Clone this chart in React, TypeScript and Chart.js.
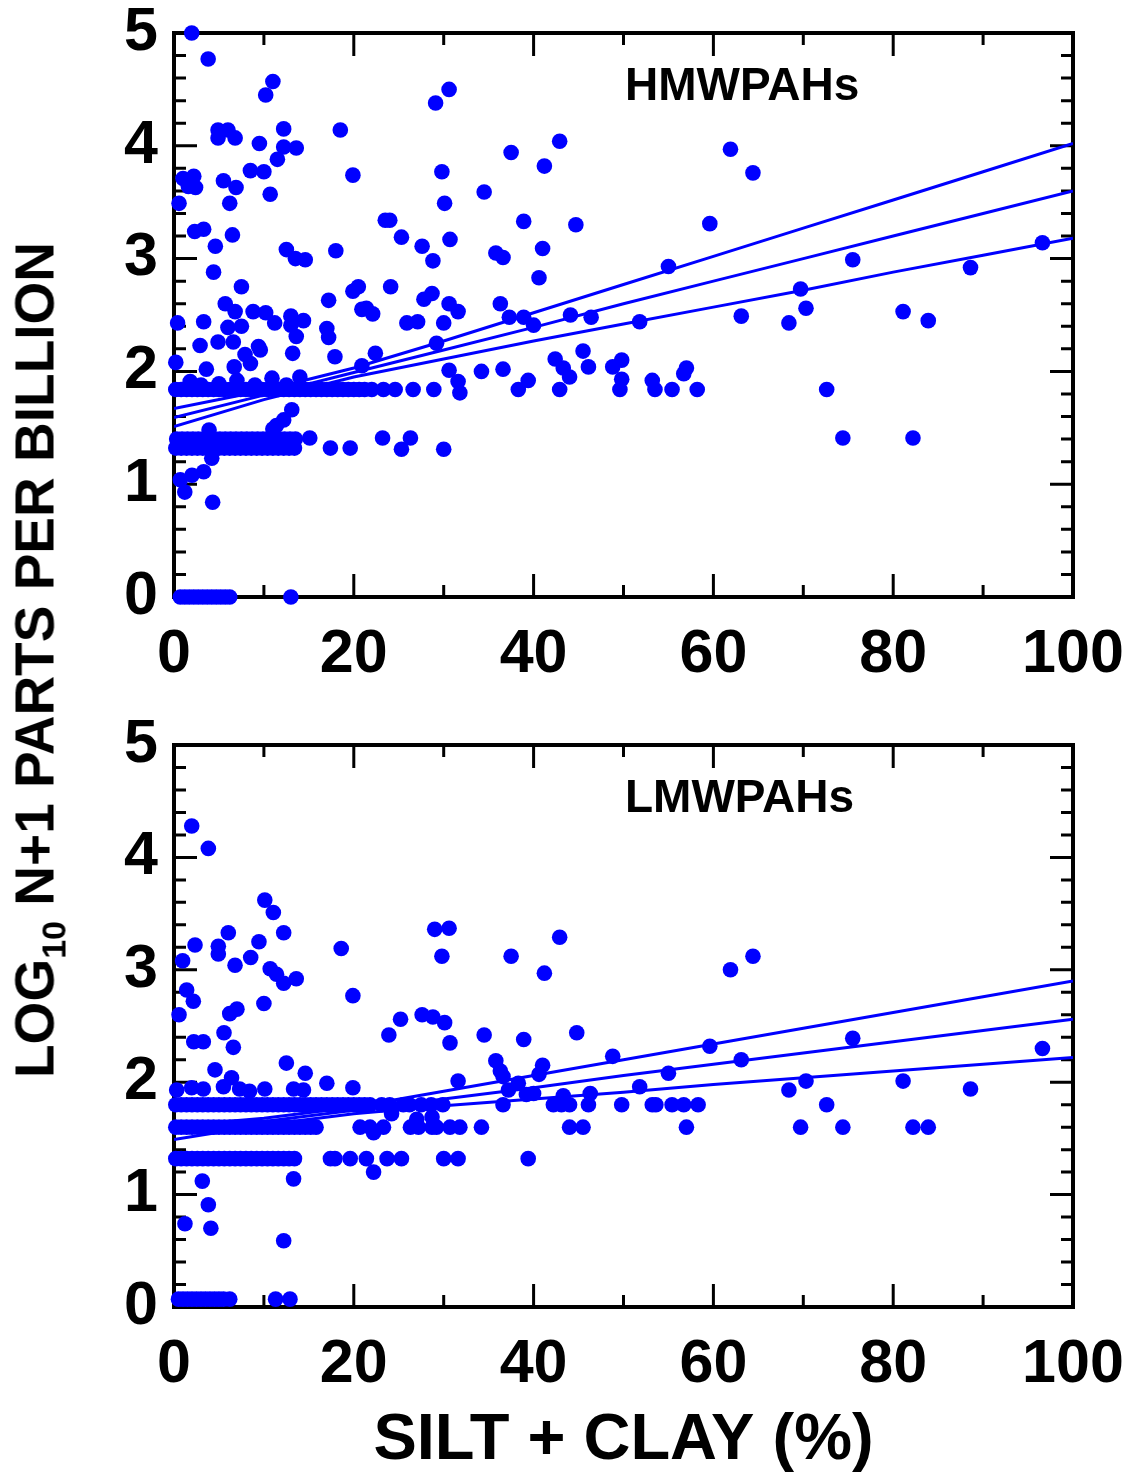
import React, { useEffect, useRef } from 'react';
import { Chart, registerables } from 'chart.js';

Chart.register(...registerables);

const BLUE = '#0000ff';
const FONT = '"Liberation Sans", Arial, Helvetica, sans-serif';

// ---------- axis ticks (frame ticks, drawn inward) ----------
const xFrameTicks = [10, 20, 30, 40, 50, 60, 70, 80, 90];
const xMajorTicks = [20, 40, 60, 80];
const yFrameTicks = [0.2, 0.4, 0.6, 0.8, 1, 1.2, 1.4, 1.6, 1.8, 2, 2.2, 2.4, 2.6, 2.8, 3, 3.2, 3.4, 3.6, 3.8, 4, 4.2, 4.4, 4.6, 4.8];
const yMajorTicks = [1, 2, 3, 4];

// ---------- HMWPAHs (top panel) ----------
const hmwScatter = [
  [1.97, 5.0], [3.8, 4.77], [11.0, 4.57], [10.2, 4.45], [4.9, 4.14], [6.0, 4.14], [4.9, 4.07], [6.8, 4.07],
  [12.2, 4.15], [18.5, 4.14], [9.5, 4.02], [12.2, 3.99], [13.6, 3.98], [11.5, 3.88], [8.5, 3.78], [10.0, 3.77],
  [19.9, 3.74], [1.0, 3.71], [2.2, 3.73], [1.6, 3.64], [2.4, 3.63], [5.5, 3.69], [6.9, 3.63], [10.7, 3.57],
  [0.56, 3.49], [6.2, 3.49], [2.3, 3.24], [3.3, 3.26], [6.5, 3.21], [4.6, 3.11], [12.5, 3.08], [13.5, 3.0],
  [14.6, 2.99], [18.0, 3.07], [4.4, 2.88], [7.5, 2.75], [19.9, 2.71], [20.5, 2.75], [17.2, 2.63], [5.7, 2.6],
  [6.8, 2.53], [8.8, 2.53], [10.2, 2.52], [11.2, 2.43], [13.0, 2.49], [13.0, 2.41], [14.4, 2.45], [13.6, 2.31],
  [20.9, 2.55], [21.4, 2.56], [22.1, 2.51], [17.0, 2.38], [17.2, 2.3], [0.4, 2.43], [3.3, 2.44], [6.0, 2.39],
  [7.5, 2.4], [2.9, 2.23], [4.9, 2.26], [6.6, 2.26], [9.4, 2.22], [7.9, 2.15], [9.6, 2.19], [13.2, 2.16],
  [17.9, 2.13], [22.4, 2.16], [0.2, 2.08], [8.5, 2.07], [6.7, 2.04], [3.6, 2.02], [20.9, 2.05], [10.9, 1.94],
  [14.0, 1.95], [7.0, 1.92], [1.8, 1.91], [3.0, 1.88], [5.0, 1.89], [9.0, 1.88], [12.5, 1.88], [13.1, 1.66],
  [12.2, 1.57], [11.4, 1.52], [11.0, 1.49], [3.9, 1.48], [4.2, 1.23], [3.3, 1.11], [2.0, 1.08], [0.7, 1.04],
  [1.2, 0.93], [4.3, 0.84],
  [30.6, 4.5], [29.1, 4.38], [42.9, 4.04], [37.5, 3.94], [41.2, 3.82], [29.8, 3.77], [34.5, 3.59], [30.1, 3.49],
  [23.5, 3.34], [24.0, 3.34], [38.9, 3.33], [44.7, 3.3], [59.6, 3.31], [25.3, 3.19], [30.7, 3.17], [27.6, 3.11],
  [41.0, 3.09], [28.8, 2.98], [35.8, 3.05], [36.6, 3.01], [40.6, 2.83], [24.1, 2.75], [28.7, 2.69], [27.8, 2.64],
  [30.6, 2.6], [31.6, 2.53], [25.9, 2.43], [27.1, 2.44], [30.0, 2.43], [36.3, 2.6], [37.3, 2.48], [38.9, 2.48],
  [40.0, 2.41], [44.1, 2.5], [46.4, 2.48], [55.0, 2.93], [51.8, 2.44], [29.2, 2.25], [30.6, 2.01], [34.2, 2.0],
  [36.6, 2.02], [42.4, 2.11], [43.3, 2.03], [44.0, 1.95], [45.5, 2.18], [46.1, 2.04], [48.8, 2.04], [49.8, 2.1],
  [49.8, 1.93], [53.2, 1.92], [56.7, 1.98], [57.0, 2.03], [31.6, 1.91], [31.8, 1.81], [39.4, 1.92],
  [23.2, 1.41], [26.3, 1.41], [25.3, 1.31], [30.0, 1.31], [15.1, 1.41],
  [61.9, 3.97], [64.4, 3.76], [75.5, 2.99], [88.6, 2.92], [96.6, 3.14], [69.7, 2.73], [70.3, 2.56], [63.1, 2.49],
  [68.4, 2.43], [81.1, 2.53], [83.9, 2.45], [74.4, 1.41], [82.2, 1.41],
];
const hmwRow184X = [
  0.2, 0.8, 1.4, 2.0, 2.6, 3.2, 3.8, 4.4, 5.0, 5.6, 6.2, 6.8, 7.4, 8.0, 8.6, 9.2, 9.8, 10.4, 11.0, 11.6, 12.2,
  12.8, 13.4, 14.0, 14.6, 15.2, 15.8, 16.4, 17.0, 17.6, 18.2, 18.8, 19.4, 20.0, 20.6, 21.2, 22.0, 23.3, 24.6,
  26.6, 28.9, 38.3, 42.9, 49.6, 53.5, 55.4, 58.2, 72.6,
];
const hmwRow140X = [
  0.3, 0.9, 1.5, 2.1, 2.7, 3.3, 3.9, 4.5, 5.1, 5.7, 6.3, 6.9, 7.5, 8.1, 8.7, 9.3, 9.9, 10.5, 11.1, 11.7, 12.3,
  12.9, 13.5,
];
const hmwRow132X = [
  0.2, 0.8, 1.4, 2.0, 2.6, 3.2, 3.8, 4.4, 5.0, 5.6, 6.2, 6.8, 7.4, 8.0, 8.6, 9.2, 9.8, 10.4, 11.0, 11.6, 12.2,
  12.8, 13.4, 17.4, 19.6,
];
const hmwRow0X = [0.7, 1.2, 1.7, 2.2, 2.7, 3.2, 3.7, 4.2, 4.7, 5.2, 5.7, 6.2, 13.0];

const bandX = [0, 10, 20, 30, 40, 50, 60, 70, 80, 90, 100];
const hmwUpperY = [1.67, 1.83, 2.03, 2.27, 2.52, 2.77, 3.02, 3.27, 3.52, 3.77, 4.02];
const hmwFitY = [1.59, 1.79, 1.99, 2.19, 2.39, 2.6, 2.8, 3.0, 3.2, 3.4, 3.6];
const hmwLowerY = [1.51, 1.75, 1.95, 2.11, 2.27, 2.42, 2.57, 2.72, 2.88, 3.03, 3.18];

// ---------- LMWPAHs (bottom panel) ----------
const lmwScatter = [
  [1.97, 4.28], [3.82, 4.08], [10.1, 3.62], [11.05, 3.51], [12.2, 3.33], [6.04, 3.33], [2.34, 3.22], [4.93, 3.21],
  [4.93, 3.14], [9.45, 3.25], [8.53, 3.11], [6.79, 3.04], [0.96, 3.08], [10.7, 3.01], [11.4, 2.96], [12.2, 2.88],
  [13.6, 2.92], [18.6, 3.19], [19.9, 2.77], [1.41, 2.82], [2.15, 2.72], [0.56, 2.6], [10.0, 2.7], [6.2, 2.61],
  [7.0, 2.65], [5.56, 2.44], [2.2, 2.36], [3.26, 2.36], [6.6, 2.31], [4.56, 2.11], [12.5, 2.17], [14.6, 2.08],
  [17.0, 1.99], [19.9, 1.95], [0.3, 1.93], [1.97, 1.95], [3.26, 1.94], [5.5, 1.96], [6.4, 2.04], [7.3, 1.94],
  [8.4, 1.92], [10.1, 1.94], [13.3, 1.94], [14.4, 1.93], [3.15, 1.12], [3.82, 0.91], [1.22, 0.74], [4.1, 0.7],
  [12.2, 0.59], [13.3, 1.14], [22.2, 1.2], [22.2, 1.55],
  [29.0, 3.36], [30.6, 3.37], [42.9, 3.29], [29.8, 3.12], [37.5, 3.12], [41.2, 2.97], [27.6, 2.6], [28.8, 2.58],
  [30.1, 2.53], [25.2, 2.56], [23.9, 2.42], [30.7, 2.35], [34.5, 2.42], [38.9, 2.38], [44.8, 2.44], [35.8, 2.19],
  [36.3, 2.1], [36.6, 2.05], [41.0, 2.15], [40.6, 2.07], [48.8, 2.23], [55.0, 2.08], [31.6, 2.01], [51.8, 1.96],
  [37.2, 1.93], [38.3, 1.99], [39.2, 1.89], [40.0, 1.9], [43.3, 1.88], [46.3, 1.9], [24.2, 1.72], [28.7, 1.69],
  [27.0, 1.67],
  [61.9, 3.0], [64.4, 3.12], [59.6, 2.32], [63.1, 2.2], [75.5, 2.39], [96.6, 2.3], [68.4, 1.93], [70.3, 2.01],
  [81.1, 2.01], [88.6, 1.94],
];
const lmwRow180X = [
  0.2, 0.8, 1.4, 2.0, 2.6, 3.2, 3.8, 4.4, 5.0, 5.6, 6.2, 6.8, 7.4, 8.0, 8.6, 9.2, 9.8, 10.4, 11.0, 11.6, 12.2,
  12.8, 13.4, 14.0, 14.6, 15.2, 15.8, 16.4, 17.0, 17.6, 18.2, 18.8, 19.4, 20.0, 20.6, 21.2, 21.8, 23.1, 24.0,
  25.5, 26.2, 27.5, 28.6, 29.9, 36.6, 42.2, 43.1, 44.0, 46.1, 49.8, 53.2, 53.6, 55.4, 56.7, 58.3, 72.6,
];
const lmwRow160X = [
  0.2, 0.8, 1.4, 2.0, 2.6, 3.2, 3.8, 4.4, 5.0, 5.6, 6.2, 6.8, 7.4, 8.0, 8.6, 9.2, 9.8, 10.4, 11.0, 11.6, 12.2,
  12.8, 13.4, 14.0, 14.6, 15.2, 15.8, 20.7, 21.8, 23.3, 26.3, 27.2, 28.7, 29.2, 30.7, 31.8, 34.2, 44.0, 45.5,
  57.0, 69.7, 74.4, 82.2, 83.9,
];
const lmwRow132X = [
  0.2, 0.8, 1.4, 2.0, 2.6, 3.2, 3.8, 4.4, 5.0, 5.6, 6.2, 6.8, 7.4, 8.0, 8.6, 9.2, 9.8, 10.4, 11.0, 11.6, 12.2,
  12.8, 13.4, 17.4, 17.9, 19.6, 21.4, 23.7, 25.3, 30.0, 31.6, 39.4,
];
const lmwRow0X = [0.5, 1.0, 1.5, 2.0, 2.5, 3.0, 3.5, 4.0, 4.5, 5.0, 5.5, 6.2, 11.3, 12.9];

const lmwUpperY = [1.61, 1.68, 1.78, 1.92, 2.06, 2.2, 2.34, 2.48, 2.62, 2.76, 2.9];
const lmwFitY = [1.55, 1.65, 1.75, 1.85, 1.95, 2.06, 2.16, 2.26, 2.36, 2.46, 2.56];
const lmwLowerY = [1.49, 1.62, 1.72, 1.79, 1.85, 1.91, 1.98, 2.04, 2.1, 2.16, 2.22];

// ---------- helpers ----------
type P = { x: number; y: number };
const pairPts = (p: number[][]): P[] => p.map(([x, y]) => ({ x, y }));
const rowPts = (xs: number[], y: number): P[] => xs.map((x) => ({ x, y }));
const linePts = (xs: number[], ys: number[]): P[] => xs.map((x, i) => ({ x, y: ys[i] }));

const framePlugin = {
  id: 'frameTicks',
  beforeDatasetsDraw(chart: any) {
    const { ctx, chartArea } = chart;
    const { left, right, top, bottom } = chartArea;
    const xs = chart.scales.x;
    const ys = chart.scales.y;
    ctx.save();
    ctx.strokeStyle = '#000';
    ctx.lineWidth = 3;
    ctx.beginPath();
    for (const v of xFrameTicks) {
      const px = xs.getPixelForValue(v);
      const len = xMajorTicks.includes(v) ? 23 : 12;
      ctx.moveTo(px, bottom);
      ctx.lineTo(px, bottom - len);
      ctx.moveTo(px, top);
      ctx.lineTo(px, top + len);
    }
    for (const v of yFrameTicks) {
      const py = ys.getPixelForValue(v);
      const len = yMajorTicks.includes(v) ? 23 : 12;
      ctx.moveTo(left, py);
      ctx.lineTo(left + len, py);
      ctx.moveTo(right, py);
      ctx.lineTo(right - len, py);
    }
    ctx.stroke();
    ctx.lineWidth = 4;
    ctx.strokeRect(left, top, right - left, bottom - top);
    ctx.restore();
  },
};

function bandDataset(data: P[]) {
  return {
    type: 'line' as const,
    data,
    borderColor: BLUE,
    borderWidth: 3,
    pointRadius: 0,
    pointHoverRadius: 0,
    fill: false,
    tension: 0,
    showLine: true,
  };
}

function PanelChart(props: {
  top: number;
  height: number;
  padTop: number;
  xAxisHeight: number;
  points: P[];
  upper: P[];
  fit: P[];
  lower: P[];
  xTitle?: string;
}) {
  const ref = useRef<HTMLCanvasElement | null>(null);
  useEffect(() => {
    if (!ref.current) return;
    const tickFont = { family: FONT, size: 61, weight: 'bold' as const, lineHeight: 1 };
    const chart = new Chart(ref.current, {
      type: 'scatter',
      data: {
        datasets: [
          {
            type: 'scatter',
            data: props.points,
            pointRadius: 7.8,
            pointHoverRadius: 7.8,
            backgroundColor: BLUE,
            borderColor: BLUE,
            borderWidth: 0,
            clip: false,
          } as any,
          bandDataset(props.upper),
          bandDataset(props.fit),
          bandDataset(props.lower),
        ],
      },
      options: {
        animation: false,
        responsive: false,
        devicePixelRatio: 1,
        events: [],
        layout: { padding: { top: props.padTop, right: 64, left: 0, bottom: 0 } },
        plugins: { legend: { display: false }, tooltip: { enabled: false } },
        scales: {
          x: {
            type: 'linear',
            min: 0,
            max: 100,
            ticks: { stepSize: 20, color: '#000', font: tickFont, padding: 28, maxRotation: 0, autoSkip: false },
            grid: { display: false, drawTicks: false },
            border: { display: false },
            title: props.xTitle
              ? {
                  display: true,
                  text: props.xTitle,
                  color: '#000',
                  font: { family: FONT, size: 65, weight: 'bold', lineHeight: 1 },
                  padding: { top: 0, bottom: 5 },
                }
              : { display: false },
            afterFit: (s: any) => {
              s.height = props.xAxisHeight;
              s.paddingLeft = 0;
              s.paddingRight = 0;
            },
          } as any,
          y: {
            type: 'linear',
            min: 0,
            max: 5,
            ticks: { stepSize: 1, color: '#000', font: tickFont, padding: 16 },
            grid: { display: false, drawTicks: false },
            border: { display: false },
            afterFit: (s: any) => {
              s.width = 174;
              s.paddingTop = 0;
              s.paddingBottom = 0;
            },
          } as any,
        },
      },
      plugins: [framePlugin],
    });
    return () => chart.destroy();
  }, []);
  return (
    <canvas
      ref={ref}
      width={1137}
      height={props.height}
      style={{ position: 'absolute', left: 0, top: props.top, width: 1137, height: props.height }}
    />
  );
}

const labelStyle: React.CSSProperties = {
  position: 'absolute',
  fontFamily: FONT,
  fontWeight: 'bold',
  fontSize: 46,
  lineHeight: '46px',
  color: '#000',
  whiteSpace: 'nowrap',
};

export default function App() {
  const hmwPoints = [
    ...pairPts(hmwScatter),
    ...rowPts(hmwRow184X, 1.84),
    ...rowPts(hmwRow140X, 1.4),
    ...rowPts(hmwRow132X, 1.32),
    ...rowPts(hmwRow0X, 0),
  ];
  const lmwPoints = [
    ...pairPts(lmwScatter),
    ...rowPts(lmwRow180X, 1.8),
    ...rowPts(lmwRow160X, 1.6),
    ...rowPts(lmwRow132X, 1.32),
    ...rowPts(lmwRow0X, 0.07),
  ];
  return (
    <div style={{ position: 'absolute', left: 0, top: 0, width: 1137, height: 1479, background: '#fff', overflow: 'hidden' }}>
      <PanelChart
        top={0}
        height={700}
        padTop={33}
        xAxisHeight={103}
        points={hmwPoints}
        upper={linePts(bandX, hmwUpperY)}
        fit={linePts(bandX, hmwFitY)}
        lower={linePts(bandX, hmwLowerY)}
      />
      <PanelChart
        top={700}
        height={779}
        padTop={45}
        xAxisHeight={172}
        points={lmwPoints}
        upper={linePts(bandX, lmwUpperY)}
        fit={linePts(bandX, lmwFitY)}
        lower={linePts(bandX, lmwLowerY)}
        xTitle="SILT + CLAY (%)"
      />
      <div style={{ ...labelStyle, left: 625, top: 61 }}>HMWPAHs</div>
      <div style={{ ...labelStyle, left: 625, top: 773 }}>LMWPAHs</div>
      <div
        style={{
          position: 'absolute',
          left: 35,
          top: 660,
          transform: 'translate(-50%, -50%) rotate(-90deg)',
          fontFamily: FONT,
          fontWeight: 'bold',
          fontSize: 55,
          lineHeight: '55px',
          color: '#000',
          whiteSpace: 'nowrap',
        }}
      >
        LOG<sub style={{ fontSize: '0.62em', verticalAlign: '-0.35em', lineHeight: 0 }}>10</sub> N+1 PARTS PER BILLION
      </div>
    </div>
  );
}
